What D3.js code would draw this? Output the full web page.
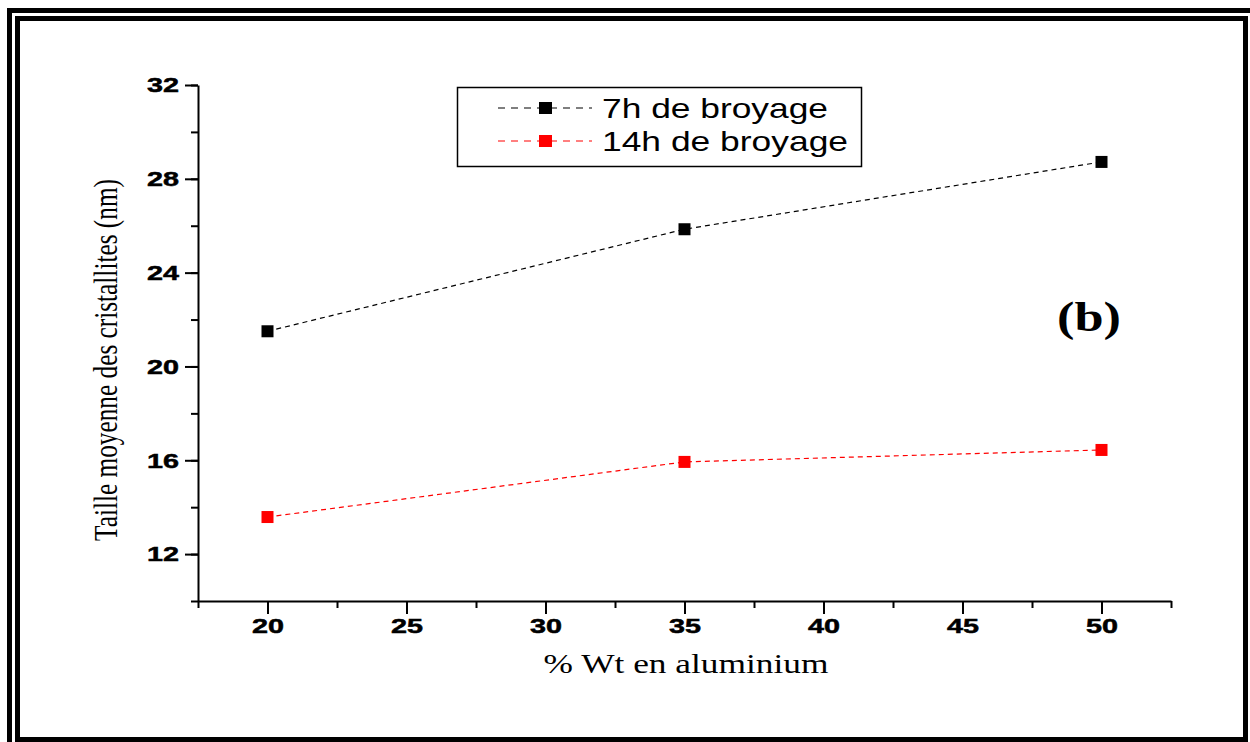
<!DOCTYPE html>
<html>
<head>
<meta charset="utf-8">
<script src="https://cdnjs.cloudflare.com/ajax/libs/d3/7.8.5/d3.min.js"></script>
<style>
  body { margin: 0; background: #fff; }
  svg { display: block; }
</style>
</head>
<body>
<script>
// data
var alPct = [20, 35, 50];
var size7h = [21.5, 25.85, 28.72];
var size14h = [13.58, 15.93, 16.44];
var seriesNames = ['7h de broyage', '14h de broyage'];
var seriesColors = ['#000000', '#ff0000'];
var yTicks = [12, 16, 20, 24, 28, 32];
var xTicks = [20, 25, 30, 35, 40, 45, 50];

var W = 1250, H = 742;
var svg = d3.select('body').append('svg').attr('width', W).attr('height', H);

// double frame (outer one is cut off right/bottom)
svg.append('rect').attr('x', 9.5).attr('y', 10.5).attr('width', 1300).attr('height', 800)
  .attr('fill', 'none').attr('stroke', '#000').attr('stroke-width', 5);
svg.append('rect').attr('x', 17.5).attr('y', 18.5).attr('width', 1228).attr('height', 721)
  .attr('fill', 'none').attr('stroke', '#000').attr('stroke-width', 5);

var x = d3.scaleLinear().domain([17.5, 52.5]).range([198, 1171]);
var y = d3.scaleLinear().domain([10, 32]).range([601, 85]);

var tickFont = 'bold 21px "Liberation Sans", Arial, sans-serif';

// minor ticks
svg.append('g').attr('transform', 'translate(0,601)')
  .call(d3.axisBottom(x).tickValues(d3.range(17.5, 53, 5)).tickSize(7).tickFormat(''))
  .call(function (g) { g.select('.domain').remove(); g.selectAll('line').attr('stroke-width', 2); });
svg.append('g').attr('transform', 'translate(198,0)')
  .call(d3.axisLeft(y).tickValues(d3.range(10, 33, 2)).tickSize(7).tickFormat(''))
  .call(function (g) { g.select('.domain').remove(); g.selectAll('line').attr('stroke-width', 2); });

var xAxis = svg.append('g').attr('transform', 'translate(0,601)')
  .call(d3.axisBottom(x).tickValues(xTicks).tickSize(13).tickSizeOuter(0).tickPadding(4));
var yAxis = svg.append('g').attr('transform', 'translate(198,0)')
  .call(d3.axisLeft(y).tickValues(yTicks).tickSize(13).tickSizeOuter(0).tickPadding(6));
[xAxis, yAxis].forEach(function (g) {
  g.select('.domain').attr('stroke-width', 2);
  g.selectAll('line').attr('stroke-width', 2);
  g.selectAll('text').style('font', tickFont).attr('fill', '#000')
    .attr('stroke', '#000').attr('stroke-width', 0.5)
    .attr('textLength', 32).attr('lengthAdjust', 'spacingAndGlyphs');
});

// series
var series = [size7h, size14h];
var line = d3.line().x(function (d, i) { return x(alPct[i]); }).y(function (d) { return y(d); });
series.forEach(function (s, k) {
  svg.append('path').datum(s).attr('d', line).attr('fill', 'none')
    .attr('stroke', seriesColors[k]).attr('stroke-width', 1.2).attr('stroke-dasharray', '5,4');
  svg.selectAll('.m' + k).data(s).enter().append('rect')
    .attr('x', function (d, i) { return x(alPct[i]) - 6; })
    .attr('y', function (d) { return y(d) - 6; })
    .attr('width', 12).attr('height', 12).attr('fill', seriesColors[k]);
});

// legend
svg.append('rect').attr('x', 457.5).attr('y', 87.5).attr('width', 404).attr('height', 79)
  .attr('fill', 'none').attr('stroke', '#000').attr('stroke-width', 1.5);
seriesNames.forEach(function (n, k) {
  var cy = 108 + k * 33;
  svg.append('line').attr('x1', 498).attr('x2', 592).attr('y1', cy).attr('y2', cy)
    .attr('stroke', seriesColors[k]).attr('stroke-width', 1.2).attr('stroke-dasharray', '7,6');
  svg.append('rect').attr('x', 539).attr('y', cy - 6).attr('width', 13).attr('height', 12)
    .attr('fill', seriesColors[k]);
  svg.append('text').attr('x', 602).attr('y', cy + 10).text(n)
    .attr('textLength', k ? 246 : 226).attr('lengthAdjust', 'spacingAndGlyphs')
    .style('font', '28px "Liberation Sans", Arial, sans-serif');
});

// axis titles
svg.append('text').attr('x', 686).attr('y', 673).attr('text-anchor', 'middle')
  .attr('textLength', 285).attr('lengthAdjust', 'spacingAndGlyphs')
  .style('font', '27px "Liberation Serif", "Times New Roman", serif').text('% Wt en aluminium');
svg.append('text').attr('transform', 'translate(117,360) rotate(-90)').attr('text-anchor', 'middle')
  .attr('textLength', 362).attr('lengthAdjust', 'spacingAndGlyphs')
  .style('font', '34px "Liberation Serif", "Times New Roman", serif').text('Taille moyenne des cristallites (nm)');

svg.append('text').attr('x', 1057).attr('y', 331)
  .attr('textLength', 64).attr('lengthAdjust', 'spacingAndGlyphs')
  .style('font', 'bold 42px "Liberation Serif", "Times New Roman", serif').text('(b)');
</script>
</body>
</html>
